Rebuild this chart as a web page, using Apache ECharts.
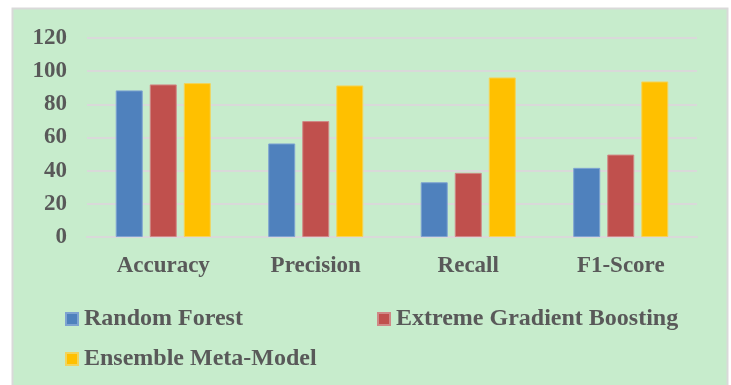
<!DOCTYPE html>
<html>
<head>
<meta charset="utf-8">
<script src="https://cdn.jsdelivr.net/npm/echarts@6/dist/echarts.min.js"></script>
<style>
  html, body { margin: 0; padding: 0; background: #ffffff; }
  #chart { width: 731px; height: 385px; }
</style>
</head>
<body>
<div id="chart"></div>
<script>
  const metrics = ["Accuracy", "Precision", "Recall", "F1-Score"];
  const randomForest = [88.4, 56.4, 33.0, 41.7];
  const xgBoost = [92.0, 69.9, 38.7, 49.7];
  const ensembleMeta = [92.8, 91.4, 96.2, 93.8];
  const seriesNames = ["Random Forest", "Extreme Gradient Boosting", "Ensemble Meta-Model"];

  const font = "'Liberation Serif', 'Times New Roman', serif";
  const textGrey = "#595959";

  const chart = echarts.init(document.getElementById("chart"));

  const legendStyle = {
    itemWidth: 12,
    itemHeight: 12,
    icon: "rect",
    padding: 0,
    textStyle: {
      fontFamily: font,
      fontWeight: "bold",
      fontSize: 24,
      color: textGrey,
      padding: [0, 0, 0, 1],
    },
  };

  chart.setOption({
    backgroundColor: "#ffffff",
    animation: false,
    graphic: [
      {
        type: "rect",
        z: -10,
        silent: true,
        shape: { x: 12.5, y: 8.5, width: 715, height: 390 },
        style: { fill: "#c7eccc", stroke: "#d9d9d9", lineWidth: 2 },
      },
    ],
    grid: { left: 87, right: 34, top: 38, bottom: 148 },
    legend: [
      Object.assign({ data: [seriesNames[0]], left: 65, top: 307 }, legendStyle),
      Object.assign({ data: [seriesNames[1]], left: 377, top: 307 }, legendStyle),
      Object.assign({ data: [seriesNames[2]], left: 65, top: 347 }, legendStyle),
    ],
    xAxis: {
      type: "category",
      data: metrics,
      axisLine: { lineStyle: { color: "#d9d9d9", width: 2 } },
      axisTick: { show: false },
      axisLabel: {
        margin: 18,
        fontFamily: font,
        fontWeight: "bold",
        fontSize: 23,
        color: textGrey,
      },
    },
    yAxis: {
      type: "value",
      min: 0,
      max: 120,
      interval: 20,
      axisLine: { show: false },
      axisTick: { show: false },
      splitLine: { lineStyle: { color: "#d9d9d9", width: 2 } },
      axisLabel: {
        margin: 20,
        fontFamily: font,
        fontWeight: "bold",
        fontSize: 23,
        color: textGrey,
      },
    },
    series: [
      {
        name: seriesNames[0],
        type: "bar",
        data: randomForest,
        barWidth: 27,
        barGap: "26%",
        itemStyle: { color: "#4f81bd", borderColor: "#7ea3d1", borderWidth: 1 },
      },
      {
        name: seriesNames[1],
        type: "bar",
        data: xgBoost,
        barWidth: 27,
        barGap: "26%",
        itemStyle: { color: "#c0504d", borderColor: "#d08886", borderWidth: 1 },
      },
      {
        name: seriesNames[2],
        type: "bar",
        data: ensembleMeta,
        barWidth: 27,
        barGap: "26%",
        itemStyle: { color: "#ffc000", borderColor: "#f2d45c", borderWidth: 1 },
      },
    ],
  });
</script>
</body>
</html>
